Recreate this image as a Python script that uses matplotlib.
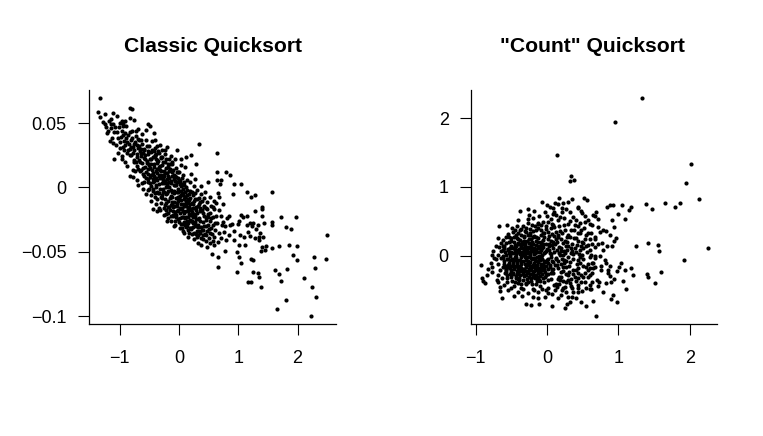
import matplotlib
matplotlib.use("Agg")
import matplotlib.pyplot as plt

plt.rcParams['font.family'] = ['Liberation Sans', 'DejaVu Sans']

classic_sparse = [
(.635,.027),(.646,.0118),(.793,.012),(.86,.0095),(.703,.0058),(.635,.0058),(.686,.003),(.927,.0027),(1.05,.003),
(1.141,-.0035),(1.563,-.0035),(1.287,-.006),(1.209,-.0076),(.916,-.0053),(.663,-.004),(.68,-.0075),(1.405,-.0149),
(1.405,-.0165),(1.276,-.018),(1.4,-.0219),(1.725,-.0231),(1.973,-.0229),(1.568,-.0265),(1.574,-.0291),(1.433,-.0273),
(1.332,-.0289),(1.804,-.0309),(1.889,-.032),(2.49,-.0369),(1.04,-.0216),(1.14,-.0219),(1.085,-.0227),(.848,-.0221),
(1.017,-.0258),(1.0,-.0283),(.889,-.0281),(1.197,-.0278),(1.242,-.0273),(1.226,-.0299),(1.152,-.0291),(1.293,-.0324),
(1.366,-.0351),(1.169,-.0348),(1.197,-.0376),(1.096,-.0382),(1.282,-.0394),(1.354,-.0407),(1.422,-.0387),(1.349,-.0387),
(1.012,-.0449),(1.118,-.0449),(.59,-.0446),(.781,-.049),(.973,-.05),(1.405,-.0464),(1.467,-.0454),(1.45,-.0485),
(1.383,-.0495),(1.568,-.0467),(1.692,-.0454),(1.86,-.0449),(1.984,-.0454),(1.928,-.0524),(1.984,-.0563),(2.277,-.0542),
(2.479,-.0557),(.551,-.0518),(.652,-.0537),(1.007,-.0542),(1.046,-.0588),(1.209,-.0553),(1.253,-.0563),(.663,-.0619),
(.973,-.0658),(1.253,-.0653),(1.327,-.0661),(1.344,-.0692),(1.619,-.064),(1.686,-.0671),(1.816,-.063),(1.725,-.0728),
(2.108,-.0705),(2.288,-.0625),(1.158,-.0736),(1.214,-.0736),(1.383,-.0774),(2.243,-.0774),(2.31,-.085),(1.799,-.0871),
(1.647,-.0943),(2.226,-.0997),(.86,-.0295),(.93,-.0335),(1.03,-.0372),(.76,-.0345),(.85,-.0372),(.93,-.0405),(.79,-.0405),
(.71,-.0395),(.64,-.0275),(.72,-.0295),(.57,-.0415),(.66,-.0425),
]
classic_upper = [
(-1.327,.0695),(-1.361,.0586),(-1.327,.0545),(-1.248,.0568),(-1.118,.0578),(-1.135,.0534),(-1.034,.0552),(-.826,.0615),
(-.788,.0609),(-.815,.0537),(-.754,.0526),(-1.277,.0511),(-1.243,.0493),(-.966,.0518),(-.939,.049),(-1.108,.049),
(-1.079,.0472),(-1.135,.0459),(-1.209,.0421),(-.686,.0454),(-.556,.0449),(-.518,.049),(-.489,.0477),(-.422,.0421),
(.342,.0335),(-1.164,.0361),(-1.118,.0343),(-1.062,.033),(-.995,.0351),(-.939,.0317),(-1.091,.0223),(-.966,.0247),
(-.966,.0221),(-.855,.0291),(-.771,.0317),(-.826,.0252),(-.872,.0167),(-.826,.0092),(-.759,.0196),(-.742,.0128),
(-.713,.0058),(-.629,.0033),(-.602,-.0012),(-.518,-.0019),(-.207,.0317),(-.366,.0322),(-.039,.0291),(.029,.0221),
(.118,.0239),(.197,.0252),(.282,.0185),(.494,.0045),(-.433,-.0167),(-.337,-.0157),(-.253,-.0213),(-.18,-.0234),
(-.106,-.0219),(.005,-.0265),(.118,-.0304),(.062,-.0335),(.214,-.0363),(.309,-.0382),(.315,-.0433),(.455,-.0413),(.455,-.0369),
]
classic_core = [
(-1.05,.043),(-1.01,.047),(-.98,.039),(-.96,.044),(-.93,.036),(-.91,.042),(-.89,.048),(-.87,.035),(-.85,.041),(-.83,.030),
(-.81,.037),(-.79,.044),(-.77,.027),(-.75,.034),(-.73,.040),(-.71,.024),(-.69,.031),(-.67,.037),(-.66,.020),(-.64,.027),
(-.62,.034),(-.61,.015),(-.59,.023),(-.58,.030),(-.56,.037),(-.55,.012),(-.54,.019),(-.52,.026),(-.51,.032),(-.49,.008),
(-.48,.015),(-.47,.022),(-.46,.029),(-.45,.036),(-.44,.004),(-.43,.011),(-.42,.018),(-.41,.025),(-.40,.031),(-.39,.000),
(-.38,.007),(-.37,.014),(-.36,.021),(-.35,.028),(-.34,-.004),(-.33,.003),(-.32,.010),(-.31,.017),(-.30,.024),(-.29,.029),
(-.28,-.008),(-.27,-.001),(-.26,.006),(-.25,.013),(-.24,.020),(-.23,.026),(-.22,-.012),(-.21,-.005),(-.20,.002),(-.19,.009),
(-.18,.016),(-.17,.022),(-.16,-.015),(-.15,-.008),(-.14,-.002),(-.13,.005),(-.12,.012),(-.11,.018),(-.10,-.018),(-.09,-.011),
(-.08,-.004),(-.07,.002),(-.06,.009),(-.05,.015),(-.04,-.021),(-.03,-.014),(-.02,-.007),(-.01,-.001),(.00,.006),(.01,.012),
(.02,-.024),(.03,-.017),(.04,-.010),(.05,-.004),(.06,.003),(.07,.010),(.08,-.027),(.09,-.020),(.10,-.013),(.11,-.007),
(.12,.000),(.13,.006),(.14,-.030),(.15,-.023),(.16,-.016),(.17,-.010),(.18,-.003),(.19,.004),(.20,-.032),(.21,-.026),
(.22,-.019),(.23,-.013),(.24,-.006),(.25,.001),(.26,-.035),(.27,-.028),(.28,-.022),(.29,-.015),(.30,-.009),(.31,-.002),
(.32,-.037),(.33,-.031),(.34,-.024),(.35,-.018),(.36,-.011),(.37,-.005),(.38,-.039),(.39,-.033),(.40,-.027),(.41,-.020),
(.42,-.014),(.43,-.008),(.44,-.036),(.45,-.030),(.46,-.023),(.47,-.017),(.48,-.011),(.50,-.039),(.51,-.032),(.52,-.026),
(.53,-.020),(.54,-.014),(.56,-.036),(.57,-.029),(.58,-.023),(.59,-.017),(.61,-.033),(.62,-.022),(-.58,.009),(-.52,.004),
(-.47,.001),(-.41,-.004),(-.36,-.009),(-.30,-.012),(-.25,-.016),(-.19,-.020),(-.13,-.022),(-.07,-.026),(-.65,.013),
(-.70,.017),(-.76,.021),(-.80,.025),(-.92,.029),(-.99,.031),(-.27,.010),(-.17,.004),(-.09,-.003),(.03,-.006),(.09,-.014),
(.15,-.018),(-.33,.016),(-.44,.024),(-.50,.018),(-.57,.025),(-.63,.030),(-.37,.006),(-.22,.000),(-.12,-.011),(-.03,-.018),
(.07,-.023),(.12,-.028),(.18,-.025),(.24,-.031),(.34,-.034),(.41,-.033),(-.04,.008),(.05,.002),(.13,-.006),(.22,-.012),
(.28,-.009),(.36,-.016),(.46,-.016),(.55,-.024),
]
classic_core2 = [
(-.713,.0263),(-.462,.0184),(-.318,.0071),(-.127,.0033),(-.588,.0292),(-.247,.0087),(-.053,.0018),(.087,-.0091),(-.673,.0214),(-.392,.0128),
(-.196,.0112),(.028,-.0127),(-.527,.0147),(-.283,.0036),(-.109,-.0076),(.164,-.0204),(-.617,.0189),(-.351,.0206),(-.158,.0004),(.057,-.0163),
(-.436,.0063),(-.214,.0153),(-.026,.0042),(.206,-.0168),(-.742,.0352),(-.494,.0223),(-.268,-.0032),(-.084,.0067),(.113,-.0182),(-.559,.0077),
(-.336,.0264),(-.142,.0142),(.039,-.0031),(.262,-.0207),(-.803,.0318),(-.419,.0162),(-.231,.0052),(-.018,-.0106),(.147,-.0117),(-.646,.0243),
(-.377,.0018),(-.176,-.0106),(.011,.0027),(.318,-.0147),(-.524,.0286),(-.297,.0128),(-.117,.0091),(.076,-.0062),(.233,-.0278),(-.846,.0335),
(-.463,.0096),(-.259,.0195),(-.068,-.0142),(.102,-.0032),(-.601,.0106),(-.344,-.0043),(-.152,-.0176),(.017,-.0201),(.191,-.0084),(-.782,.0388),
(-.406,.0241),(-.226,-.0091),(-.043,-.0083),(.142,-.0262),(.357,-.0263),(-.688,.0143),(-.481,.0033),(-.282,.0171),(-.099,.0138),(.063,-.0283),
(.274,-.0157),(-.532,.0208),(-.322,-.0012),(-.137,-.0139),(.046,.0073),(.208,-.0213),(-.897,.0382),(-.385,.0262),(-.189,.0186),(-.012,.0118),
(.126,-.0231),(.382,-.0176),(-.636,.0372),(-.443,-.0027),(-.241,-.0137),(-.061,-.0187),(.094,.0017),(.251,-.0108),(-.757,.0291),(-.512,.0108),
(-.309,.0227),(-.122,-.0034),(.023,-.0063),(.169,-.0053),(.326,-.0288),(-.564,.0158),(-.361,.0112),(-.171,.0077),(-.007,-.0246),(.118,-.0147),
(.296,-.0243),(-.934,.0407),(-.426,.0048),(-.218,-.0176),(-.036,.0123),(.074,-.0128),(.224,-.0037),(.427,-.0221),(-.669,.0326),(-.477,.0272),
(-.273,.0072),(-.106,-.0151),(.034,-.0283),(.187,-.0311),(.344,-.0128),(-.592,.0041),(-.394,-.0072),(-.204,-.0043),(-.029,-.0032),(.136,-.0018),
(.283,-.0302),(.492,-.0288),(-.826,.0427),(-.517,.0068),(-.302,-.0073),(-.146,.0181),(.012,-.0157),(.158,-.0274),(.312,-.0198),(-.721,.0197),
(-.453,.0133),(-.256,-.0038),(-.091,-.0216),(.052,-.0228),(.213,-.0318),(.403,-.0372),(-.608,.0267),(-.372,.0187),(-.184,-.0152),(-.016,.0077),
(.103,-.0236),(.266,-.0041),(.452,-.0253),(-1.02,.0384),(-.496,-.0011),(-.337,.0092),(-.165,.0128),(-.048,-.0231),(.082,.0041),(.237,-.0233),
(.371,-.0307),(.535,-.0312),(-.692,.0377),(-.421,.0286),(-.233,.0112),(-.074,.0097),(.067,-.0186),(.177,-.0151),(.334,-.0082),(.486,-.0203),
(-1.09,.0428),(-.543,.0324),(-.289,-.0057),(-.131,-.0066),(.006,-.0084),(.146,-.0331),(.302,-.0337),(.567,-.0152),(-.868,.0268),(-.388,.0224),
(-.207,.0068),(-.022,-.0176),(.128,-.0106),(.278,-.0267),(.421,-.0297),(-.776,.0133),(-.461,-.0058),(-.316,.0136),(-.113,-.0128),(.042,.0012),
(.193,-.0127),(.351,-.0352),(.612,-.0278),(-1.14,.0496),(-.632,.0138),(-.374,-.0032),(-.178,-.0024),(-.057,.0053),(.098,-.0293),(.245,-.0161),
(.468,-.0341),(-.902,.0327),(-.508,.0171),(-.246,.0032),(-.088,.0021),(.071,-.0008),(.218,-.0261),(.394,-.0102),(-1.18,.0518),(-.662,.0282),
(-.431,-.0009),(-.193,.0035),(-.033,-.0122),(.109,-.0072),(.286,-.0176),(.523,-.0357),(-.947,.0476),(-.574,.0218),(-.276,.0234),(-.122,.0198),
(.026,.0053),(.152,-.0087),(.331,-.0242),(-1.22,.0473),(-.701,.0331),(-.413,.0092),(-.218,.0218),(-.011,-.0037),(.201,-.0176),(.416,-.0148),
]
classic_spread = [
(-.47,-.0108),(-.38,-.0131),(-.31,-.0173),(-.22,-.0207),(-.14,-.0263),(-.06,-.0292),(.02,-.0311),(.09,-.0352),(.16,-.0386),(.25,-.0403),
(.37,-.0447),(.48,-.0462),(.53,-.0428),(.6,-.0382),(.67,-.0352),(.74,-.0268),(.81,-.0237),(.68,-.0178),(.74,-.0132),(.59,-.0106),(.52,-.0071),
(.44,-.0032),(.37,.0012),(.28,.0063),(.2,.0103),(.11,.0157),(.03,.0178),(-.06,.0222),(-.14,.0247),(-.24,.0291),(-.32,.0327),(-.41,.0368),
(.49,-.0232),(.63,-.0119),(.71,-.0218),(.78,-.0302),(.41,-.0402),(.29,-.0362),(.17,-.0352),(.05,-.0312),(-.09,-.0301),(-.2,-.0263),(-.36,-.0186),
(-.55,-.0052),(-.68,.0016),(-.77,.0084),(-.91,.0196),(-1.03,.0268),(-1.12,.0387),(-1.2,.0438),(-.72,.0437),(-.62,.0418),(-.9,.0514),(-1.0,.0502),
]

count_sparse = [
(1.324,2.29),(.951,1.946),(2.01,1.329),(1.94,1.054),(2.126,.83),(1.38,.758),(1.464,.686),(1.646,.764),(1.79,.714),(1.86,.772),
(1.045,.739),(1.179,.71),(1.147,.671),(.835,.714),(.881,.743),(.919,.735),(.993,.604),(1.087,.536),(.905,.522),(.937,.425),
(.685,.642),(.648,.594),(.671,.58),(.717,.536),(.625,.449),(.717,.425),(.741,.352),(.787,.377),(.825,.358),(.881,.304),
(.965,.261),(.937,.222),(.671,.28),(.671,.246),(.615,.329),(1.249,.145),(1.408,.188),(1.557,.159),(1.566,.072),(2.252,.116),
(1.916,-.062),(.913,.145),(.843,.145),(.765,.184),(.717,.174),(.625,.174),(.671,.135),(.787,.087),(.601,.087),(.671,.004),
(.741,.004),(.671,-.033),(.811,-.058),(.825,-.106),(.881,-.14),(.755,-.145),(.671,-.164),(.625,-.106),(1.03,-.106),(1.011,-.155),
(1.087,-.203),(.983,-.222),(1.179,-.178),(1.207,-.275),(1.403,-.265),(1.408,-.304),(1.59,-.236),(1.51,-.387),(.849,-.203),
(.858,-.251),(.881,-.285),(.751,-.203),(.648,-.178),(.625,-.251),(.601,-.275),(.941,-.329),(.891,-.381),(.825,-.396),(.731,-.372),
(.695,-.348),(.625,-.381),(.717,-.43),(1.067,-.362),(1.105,-.483),(.787,-.526),(.927,-.57),(.895,-.623),(.975,-.667),(.648,-.652),
(.685,-.87),(.601,-.483),
]
count_edge = [
(.136,1.468),(.336,1.164),(.322,1.083),(.378,1.101),(.164,.845),(.345,.83),(.522,.841),(.559,.812),(-.074,.787),(-.004,.735),
(.042,.714),(.112,.764),(.158,.754),(.22,.772),(.29,.778),(-.378,.657),(-.27,.686),(-.252,.599),(-.182,.648),(.088,.691),
(.094,.642),(.088,.609),(.206,.691),(.214,.642),(.262,.677),(.322,.642),(.438,.714),(.471,.657),(.494,.619),(.438,.691),
(-.401,.522),(-.004,.58),(.182,.57),(.15,.522),(-.667,.435),(-.564,.449),(-.424,.439),(-.448,.377),(-.378,.377),(-.262,.474),
(-.214,.449),(-.122,.483),(-.052,.497),(.088,.449),(.018,.497),(.462,.483),(.531,.497),(.601,.464),(-.927,-.13),(-.751,.072),
(-.765,.014),(-.667,.135),(-.611,.149),(-.681,.257),(-.611,.232),(-.787,-.106),(-.773,-.155),(-.821,-.193),(-.773,-.228),
(-.843,-.275),(-.913,-.314),(-.891,-.362),(-.867,-.396),(-.703,-.348),(-.681,-.275),(-.657,-.445),(-.657,-.507),(-.625,-.613),
(-.457,-.58),(-.345,-.58),(-.192,-.59),(-.122,-.613),(-.028,-.599),(.018,-.541),(.15,-.604),(.074,-.725),(-.108,-.7),(-.22,-.714),
(-.29,-.696),(.252,-.749),(.276,-.7),(.326,-.671),(.345,-.59),(.41,-.604),(.476,-.662),(.541,-.72),(.438,-.517),(.102,-.42),
(.144,-.445),(.252,-.445),(.228,-.468),(.345,-.468),(.438,-.42),(.531,-.372),(.601,-.42),(.615,-.478),(.438,-.178),(.531,-.251),
(.508,-.3),(.438,-.323),(.462,-.106),(.601,-.178),(.648,-.106),(.415,.159),(.485,.207),(.462,.087),(.578,.159),(.485,.014),(.601,-.01),
]
count_core = [
(-.72,-.05),(-.69,.02),(-.68,-.12),(-.66,-.21),(-.65,.07),(-.64,-.03),(-.63,-.32),(-.62,-.16),(-.61,.08),(-.6,-.08),(-.59,-.25),
(-.58,.19),(-.57,.01),(-.56,-.38),(-.55,-.13),(-.54,-.04),(-.53,.28),(-.52,.12),(-.51,-.2),(-.5,-.31),(-.49,.05),(-.48,-.09),
(-.47,.35),(-.46,-.43),(-.45,.16),(-.44,-.15),(-.43,-.02),(-.42,-.26),(-.41,.24),(-.4,.09),(-.39,-.35),(-.38,-.06),(-.37,-.47),
(-.36,.31),(-.35,-.19),(-.34,.02),(-.33,.18),(-.32,-.29),(-.31,-.11),(-.3,.4),(-.29,-.41),(-.28,.07),(-.27,-.02),(-.26,-.23),
(-.25,.25),(-.24,-.14),(-.23,-.36),(-.22,.13),(-.21,-.05),(-.2,.36),(-.19,-.28),(-.18,-.49),(-.17,.04),(-.16,.21),(-.15,-.17),
(-.14,-.08),(-.13,.47),(-.12,-.33),(-.11,.11),(-.1,-.44),(-.09,.3),(-.08,-.01),(-.07,-.21),(-.06,.18),(-.05,-.12),(-.04,-.38),
(-.03,.06),(-.02,.39),(-.01,-.27),(0,-.06),(.01,.24),(.02,-.47),(.03,.14),(.04,-.16),(.05,-.34),(.06,.03),(.07,.32),(.08,-.09),
(.09,-.24),(.1,.42),(.11,.18),(.12,-.4),(.13,-.03),(.14,.08),(.15,-.18),(.16,.27),(.17,-.3),(.18,.36),(.19,-.11),(.2,.12),
(.21,-.5),(.22,-.22),(.23,.01),(.24,.45),(.25,.22),(.26,-.37),(.27,-.07),(.28,.09),(.29,-.28),(.3,.31),(.31,-.15),(.32,.5),
(.33,.04),(.34,-.43),(.35,.17),(.36,-.2),(.37,-.04),(.38,.37),(.39,-.31),(.4,.26),(.41,.06),(.42,-.11),(.43,.44),(.44,-.25),
(.46,.33),(.47,-.37),(.48,.15),(.5,-.05),(.52,.4),(.53,.25),(.54,-.16),(.56,.06),(.57,-.3),(.58,.33),(.6,.25),(.62,.02),
(-.62,.0),(-.58,-.19),(-.55,.1),(-.52,-.06),(-.5,.22),(-.47,-.24),(-.45,-.01),(-.43,.14),(-.41,-.33),(-.39,.06),(-.37,-.12),
(-.35,.2),(-.33,-.23),(-.31,.03),(-.29,-.16),(-.27,.3),(-.25,-.3),(-.23,.1),(-.21,-.4),(-.19,.17),(-.17,-.03),(-.15,.28),(-.13,-.24),
(-.11,.0),(-.09,-.13),(-.07,.12),(-.05,.34),(-.03,-.3),(-.01,.17),(.01,-.1),(.03,.29),(.05,-.02),(.07,-.2),(.09,.2),(.11,-.13),
(.13,.35),(.15,-.33),(.17,.05),(.19,.24),(.21,-.04),(.23,-.16),(.25,.38),(.27,-.26),(.29,.15),(-.5,-.14),(-.46,.05),(-.42,-.1),
(-.38,-.22),(-.34,-.07),(-.3,-.28),(-.26,-.08),(-.22,-.2),(-.18,-.1),(-.14,-.36),(-.1,-.06),(-.06,-.32),(-.02,-.14),(.02,-.26),
(-.44,-.32),(-.4,-.18),(-.36,-.02),(-.32,.11),(-.28,-.34),(-.24,.04),(-.2,-.13),(-.16,.1),(-.12,-.09),(-.08,.2),(-.04,-.2),(0,.1),
(.04,.04),(.08,.12),(.12,.25),(.16,-.08),(.2,-.3),(.24,-.1),(.28,.2),(-.6,.14),(-.56,-.28),(-.53,.2),(-.48,.11),(-.44,.3),(-.4,.33),
(-.36,.13),(-.32,.27),(-.28,.22),(-.24,.34),(-.2,.27),(-.16,.38),(-.12,.41),(-.08,.37),(-.04,.28),
]
count_core2 = [
(-.513,-.174),(-.287,-.063),(-.092,-.237),(-.436,.027),(-.218,-.318),(-.047,.043),(-.371,-.146),(-.164,.092),(-.562,-.047),(-.306,.138),
(-.118,-.168),(-.476,-.268),(-.243,.012),(-.021,-.088),(-.395,.103),(-.188,-.223),(-.603,-.117),(-.331,-.342),(-.137,.054),(-.452,.082),
(-.269,-.132),(-.074,-.046),(-.527,.037),(-.346,.062),(-.158,-.272),(-.417,-.211),(-.203,.071),(-.036,-.183),(-.588,.052),(-.298,-.217),
(-.107,.143),(-.484,-.357),(-.232,-.094),(-.063,.021),(-.378,-.277),(-.176,-.148),(-.541,-.162),(-.312,-.013),(-.128,-.302),(-.443,-.058),
(-.256,.181),(-.084,-.118),(-.509,.147),(-.362,-.172),(-.149,.163),(-.406,-.396),(-.197,-.036),(-.014,.072),(-.571,-.226),(-.283,.098),
(-.113,-.197),(-.468,.201),(-.237,-.262),(-.056,-.152),(-.386,.168),(-.169,-.324),(-.618,-.028),(-.324,.213),(-.133,-.017),(-.426,-.139),
(-.263,-.372),(-.078,.083),(-.497,-.236),(-.352,.037),(-.182,.032),(-.401,-.052),(-.211,-.162),(-.029,-.227),(-.546,.082),(-.292,-.118),
(-.103,.057),(-.459,-.187),(-.226,.156),(-.067,-.263),(-.368,-.091),(-.153,-.207),(-.582,-.147),(-.317,.071),(-.123,.113),(-.432,-.292),
(-.248,-.193),(-.043,-.073),(-.519,-.003),(-.341,-.257),(-.174,-.063),(-.412,.187),(-.208,.204),(.013,-.042),(-.556,-.312),(-.276,-.253),
(-.097,-.283),(-.473,-.121),(-.221,-.034),(-.052,.123),(-.391,-.326),(-.143,-.128),(-.597,.113),(-.301,.172),(-.117,-.351),(-.447,.127),
(-.258,.062),(-.071,-.173),(-.504,.063),(-.357,.153),(-.192,-.247),(-.418,.058),(-.201,-.301),(.021,-.187),(-.534,-.109),(-.286,.047),
(-.108,-.028),(.047,-.127),(-.462,-.164),(-.232,.117),(.034,.083),(-.376,.024),(-.161,-.176),(.068,-.067),(-.327,-.186),(-.127,.196),
(.053,-.246),(-.438,.163),(-.247,-.113),(.087,-.186),(-.524,-.258),(-.343,.122),(-.083,.157),(.104,.052),(-.403,-.244),(-.187,.121),
(.028,.178),(-.577,-.196),(-.293,-.387),(-.053,.231),(.122,-.042),(-.489,-.043),(-.217,.248),(.076,.162),(-.364,-.411),(-.147,-.404),
(.141,-.132),(-.448,-.382),(-.262,.132),(.009,-.347),(-.328,.296),(-.093,-.361),(.163,.137),(-.421,.261),(-.178,.293),(.057,.223),
(-.509,.259),(-.241,.302),(.097,.284),(-.384,.236),(-.132,.257),(.183,.008),(-.296,.353),(-.037,.337),(.137,.204),(-.168,.431),
(.017,.342),(.198,-.238),(-.238,.392),(-.088,.443),(.242,.067),(-.357,.392),(.061,.411),(.221,.183),(-.458,.272),(-.011,.441),
(.261,-.153),(.317,-.087),(.168,-.402),(.284,.271),(.352,.073),(.312,-.228),(.387,.122),(.216,.336),(.341,-.327),(.406,-.197),
(.183,-.351),(.263,.142),(.372,.263),(.428,.332),(.297,-.347),(.147,.307),(.462,-.022),(.234,-.057),(.331,.372),(.503,.192),
]
count_spread = [
(-.34,.44),(-.26,.53),(-.19,.55),(-.11,.58),(-.03,.64),(.05,.54),(.13,.6),(.24,.55),(.29,.47),(.36,.56),(.41,.52),(.53,.58),(.57,.52),(.48,.37),
(.39,.45),(.55,.31),(.51,.11),(.44,.22),(.32,.27),(.17,.44),(.07,.47),(-.54,.32),(-.49,.41),(-.31,.36),(-.58,.27),(-.64,.19),(-.71,.15),(-.74,-.03),
(-.68,-.38),(-.6,-.42),(-.55,-.49),(-.5,-.46),(-.41,-.52),(-.33,-.48),(-.26,-.54),(-.2,-.48),(-.13,-.52),(-.07,-.48),(-.01,-.5),(.07,-.55),(.11,-.5),
(.19,-.56),(.27,-.52),(.29,-.6),(.36,-.52),(.4,-.36),(.44,-.46),(.49,-.51),(.55,-.46),(.51,-.14),(.58,-.11),(.57,-.2),(.37,-.26),(.47,-.28),(.23,-.36),
(.32,-.39),(.3,-.02),(.36,.03),(.43,-.06),(.25,.04),(.19,.07),(.34,.12),(.45,.03),(.55,.15),
]

classic_xticks = [-1, 0, 1, 2]
classic_yticks = [0.05, 0, -0.05, -0.1]
classic_ylabels = ["0.05", "0", "\u22120.05", "\u22120.1"]
count_xticks = [-1, 0, 1, 2]
count_yticks = [0, 1, 2]
xlabels = ["\u22121", "0", "1", "2"]

W, H = 763, 436
fig = plt.figure(figsize=(W / 100, H / 100), dpi=100)


def panel(box, title, groups, xlim, ylim, xt, xl, yt, yl, title_x):
    l, t, r, b = box
    ax = fig.add_axes([l / W, 1 - b / H, (r - l) / W, (b - t) / H])
    for g in groups:
        ax.plot([p[0] for p in g], [p[1] for p in g], 'o', color='black', ms=3.0, mew=0, clip_on=False)
    ax.set_xlim(*xlim)
    ax.set_ylim(*ylim)
    ax.spines['top'].set_visible(False)
    ax.spines['right'].set_visible(False)
    ax.spines['left'].set_linewidth(0.9)
    ax.spines['bottom'].set_linewidth(0.9)
    ax.set_xticks(xt, xl)
    ax.set_yticks(yt, yl)
    ax.tick_params(axis='both', length=8, width=0.8, labelsize=13)
    ax.tick_params(axis='y', pad=8)
    ax.tick_params(axis='x', pad=11)
    fig.text(title_x / W, 1 - 47 / H, title, ha='center', va='center', fontsize=15.2, fontweight='bold')
    return ax


panel((89, 90, 336, 324), "Classic Quicksort", [classic_sparse, classic_upper, classic_core, classic_core2, classic_spread],
      (-1.514, 2.648), (-0.106, 0.0757), classic_xticks, xlabels, classic_yticks, classic_ylabels, 212.5)
panel((471, 90, 717, 324), '"Count" Quicksort', [count_sparse, count_edge, count_core, count_core2, count_spread],
      (-1.063, 2.378), (-0.986, 2.406), count_xticks, xlabels, count_yticks, ["0", "1", "2"], 592)

fig.savefig("out.png", dpi=100)
